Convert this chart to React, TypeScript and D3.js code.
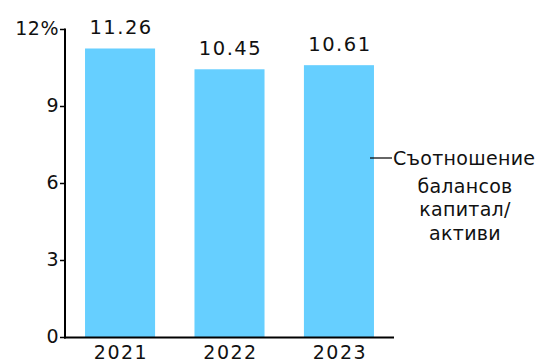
import React, { useEffect, useRef } from "react";
import * as d3 from "d3";

const categories = ["2021", "2022", "2023"];
const values = [11.26, 10.45, 10.61];
const valueLabels = ["11.26", "10.45", "10.61"];
const yTicks = [0, 3, 6, 9, 12];
const yTickLabels = ["0", "3", "6", "9", "12%"];
const legendLines = ["Съотношение", "балансов", "капитал/", "активи"];

export default function App() {
  const ref = useRef<SVGSVGElement | null>(null);
  useEffect(() => {
    const svg = d3.select(ref.current);
    svg.selectAll("*").remove();
    const font = "DejaVu Sans, sans-serif";
    const x0 = 65, x1 = 394, yBase = 337.5, yTop = 29.5;
    const x = d3.scaleBand().domain(categories).range([x0, x1]).paddingInner(0.36).paddingOuter(0.183);
    const y = d3.scaleLinear().domain([0, 12]).range([yBase, yTop]);

    svg.selectAll("rect.bar").data(values).enter().append("rect")
      .attr("x", (_, i) => x(categories[i])!)
      .attr("y", d => y(d))
      .attr("width", x.bandwidth())
      .attr("height", d => yBase - y(d))
      .attr("fill", "#66cfff");

    svg.selectAll("text.val").data(values).enter().append("text")
      .attr("x", (_, i) => x(categories[i])! + x.bandwidth() / 2 + 1)
      .attr("y", d => y(d) - 14)
      .attr("text-anchor", "middle")
      .attr("font-family", font).attr("font-size", 19.5).attr("letter-spacing", 1.5).attr("fill", "#111")
      .text((_, i) => valueLabels[i]);

    // axes lines
    svg.append("line").attr("x1", x0).attr("x2", x0).attr("y1", y(12) - 1).attr("y2", yBase + 1)
      .attr("stroke", "#000").attr("stroke-width", 2);
    svg.append("line").attr("x1", x0 - 1).attr("x2", x1).attr("y1", yBase).attr("y2", yBase)
      .attr("stroke", "#000").attr("stroke-width", 2);

    yTicks.forEach((t, i) => {
      svg.append("line").attr("x1", x0 - 5).attr("x2", x0).attr("y1", y(t)).attr("y2", y(t))
        .attr("stroke", "#000").attr("stroke-width", 1.5);
      svg.append("text").attr("x", x0 - 6).attr("y", y(t) + 5)
        .attr("text-anchor", "end").attr("font-family", font).attr("font-size", 19).attr("letter-spacing", 0.5).attr("fill", "#111")
        .text(yTickLabels[i]);
    });

    categories.forEach(c => {
      svg.append("text").attr("x", x(c)! + x.bandwidth() / 2 + 1).attr("y", yBase + 21)
        .attr("text-anchor", "middle").attr("font-family", font).attr("font-size", 19).attr("letter-spacing", 1.5).attr("fill", "#111")
        .text(c);
    });

    // legend
    svg.append("line").attr("x1", 370).attr("x2", 392).attr("y1", 158).attr("y2", 158)
      .attr("stroke", "#000").attr("stroke-width", 1.2);
    const lx = 465;
    const ly = [165, 193, 216, 240];
    legendLines.forEach((l, i) => {
      svg.append("text").attr("x", i === 0 ? 393 : lx).attr("y", ly[i])
        .attr("text-anchor", i === 0 ? "start" : "middle")
        .attr("font-family", font).attr("font-size", 19).attr("letter-spacing", 0.3).attr("fill", "#111")
        .text(l);
    });
  }, []);
  return (
    <svg ref={ref} width={542} height={360} style={{ position: "absolute", left: 0, top: 0, background: "#fff" }} />
  );
}
